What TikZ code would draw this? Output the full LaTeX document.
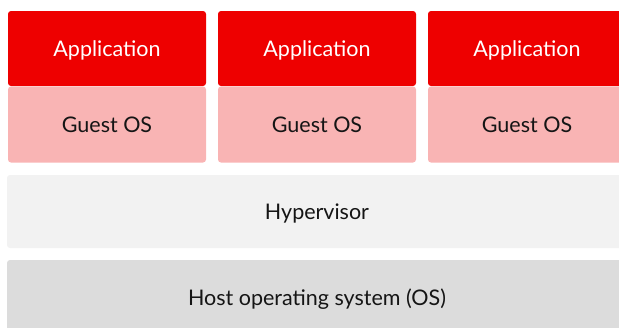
\documentclass[tikz,border=0pt]{standalone}
\usepackage{fontspec}
\setmainfont{Lato}
\definecolor{rhred}{HTML}{EE0000}
\definecolor{rhpink}{HTML}{F9B4B4}
\definecolor{rhlight}{HTML}{F2F2F2}
\definecolor{rhgrey}{HTML}{DCDCDC}
\definecolor{rhtext}{HTML}{151515}
\begin{document}
\begin{tikzpicture}[x=1pt,y=-1pt,
  layer/.style={rounded corners=3pt,inner sep=0pt,text depth=0pt,font=\fontsize{21.5}{24}\selectfont,text=rhtext},
  app/.style={layer,fill=rhred,text=white,minimum width=198pt,minimum height=75pt},
  guest/.style={layer,fill=rhpink,minimum width=198pt,minimum height=76pt},
  hyper/.style={layer,fill=rhlight,minimum width=620pt,minimum height=73pt},
  host/.style={layer,fill=rhgrey,minimum width=620pt,minimum height=74pt}]
% Mise en place
\useasboundingbox(0,0)rectangle(619,327);
\clip(0,0)rectangle(619,327);
% Applications
\node[app](app1)at(107,48.5){Application};
\node[app](app2)at(317,48.5){Application};
\node[app](app3)at(527,48.5){Application};
% Guest OS
\node[guest](guest1)at(107,124.5){Guest OS};
\node[guest](guest2)at(317,124.5){Guest OS};
\node[guest](guest3)at(527,124.5){Guest OS};
% Hypervisor and host
\node[hyper](hyper)at(317,211.5){Hypervisor};
\node[host](host)at(317,297){Host operating system (OS)};
\end{tikzpicture}
\end{document}
